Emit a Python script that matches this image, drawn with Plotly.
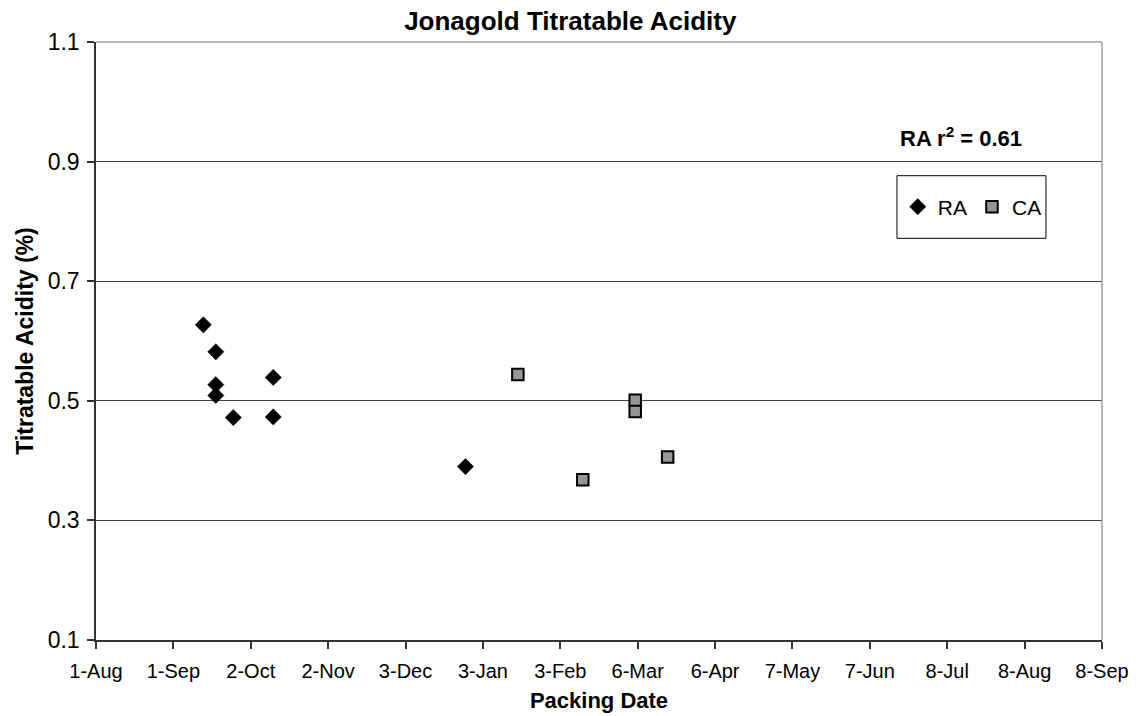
import plotly.graph_objects as go

# Titratable acidity of Jonagold apples by packing date
ra_dates = ["2004-09-13", "2004-09-18", "2004-09-18", "2004-09-18",
            "2004-09-25", "2004-10-11", "2004-10-11", "2004-12-27"]
ra_acidity = [0.627, 0.582, 0.527, 0.509, 0.472, 0.539, 0.473, 0.390]

ca_dates = ["2005-01-17", "2005-02-12", "2005-03-05", "2005-03-05", "2005-03-18"]
ca_acidity = [0.544, 0.368, 0.501, 0.482, 0.406]

tick_dates = ["2004-08-01", "2004-09-01", "2004-10-02", "2004-11-02", "2004-12-03",
              "2005-01-03", "2005-02-03", "2005-03-06", "2005-04-06", "2005-05-07",
              "2005-06-07", "2005-07-08", "2005-08-08", "2005-09-08"]
tick_labels = ["1-Aug", "1-Sep", "2-Oct", "2-Nov", "3-Dec", "3-Jan", "3-Feb",
               "6-Mar", "6-Apr", "7-May", "7-Jun", "8-Jul", "8-Aug", "8-Sep"]
y_ticks = [0.1, 0.3, 0.5, 0.7, 0.9, 1.1]
ra_r2 = 0.61

FONT = "Liberation Sans, Arial, sans-serif"
AXIS = "#333333"

fig = go.Figure()
fig.add_trace(go.Scatter(
    x=ra_dates, y=ra_acidity, mode="markers", name="RA",
    marker=dict(symbol="diamond", size=12.5, color="black",
                line=dict(color="black", width=0.5)),
))
fig.add_trace(go.Scatter(
    x=ca_dates, y=ca_acidity, mode="markers", name="CA",
    marker=dict(symbol="square", size=11.5, color="#969696",
                line=dict(color="black", width=2)),
))

# legend frame
fig.add_shape(type="rect", xref="paper", yref="paper",
              x0=0.7962, x1=0.9443, y0=0.6717, y1=0.7764,
              line=dict(color="black", width=1), fillcolor="rgba(0,0,0,0)")
# plot-area border on top and right
fig.add_shape(type="line", xref="paper", yref="paper", x0=0, x1=1, y0=1, y1=1,
              line=dict(color="#a0a0a0", width=1.5), layer="above")
fig.add_shape(type="line", xref="paper", yref="paper", x0=1, x1=1, y0=0, y1=1,
              line=dict(color="#a0a0a0", width=1.5), layer="above")

fig.add_annotation(
    xref="paper", yref="paper", x=0.860, y=(640 - 137) / 598,
    text=f"<b>RA r<sup>2</sup> = {ra_r2:.2f}</b>", showarrow=False,
    font=dict(family=FONT, size=22, color="black"), xanchor="center", yanchor="middle",
)

fig.update_layout(
    width=1136, height=716,
    margin=dict(l=96, r=34, t=42, b=76, autoexpand=False),
    paper_bgcolor="white", plot_bgcolor="white",
    font=dict(family=FONT, size=20, color="black"),
    title=dict(text="<b>Jonagold Titratable Acidity</b>", x=0.502, xanchor="center",
               y=1 - 21 / 716, yanchor="middle", yref="container",
               font=dict(family=FONT, size=26, color="black")),
    showlegend=True,
    legend=dict(orientation="h", x=0.797, y=(640 - 207) / 598, xanchor="left",
                yanchor="middle", bgcolor="rgba(0,0,0,0)", borderwidth=0,
                font=dict(family=FONT, size=21, color="black")),
    xaxis=dict(
        type="date", range=["2004-08-01", "2005-09-08"], automargin=False,
        tickmode="array", tickvals=tick_dates, ticktext=tick_labels,
        showgrid=False, showline=True, linecolor=AXIS, linewidth=1.5,
        ticks="outside", ticklen=7, tickcolor=AXIS, tickwidth=1.5,
        tickfont=dict(family=FONT, size=20, color="black"),
        ticklabelstandoff=5,
        title=dict(text="<b>Packing Date</b>", standoff=12,
                   font=dict(family=FONT, size=22, color="black")),
        zeroline=False,
    ),
    yaxis=dict(
        range=[0.1, 1.1], tickmode="array", tickvals=y_ticks, automargin=False,
        ticktext=[f"{v:.1f}" for v in y_ticks],
        showgrid=True, gridcolor="#404040", gridwidth=1,
        showline=True, linecolor=AXIS, linewidth=1.5,
        ticks="outside", ticklen=7, tickcolor=AXIS, tickwidth=1.5,
        tickfont=dict(family=FONT, size=23, color="black"),
        ticklabelstandoff=3,
        title=dict(text="<b>Titratable Acidity (%)</b>", standoff=8,
                   font=dict(family=FONT, size=23, color="black")),
        zeroline=False,
    ),
)

fig.write_html("out.html")
